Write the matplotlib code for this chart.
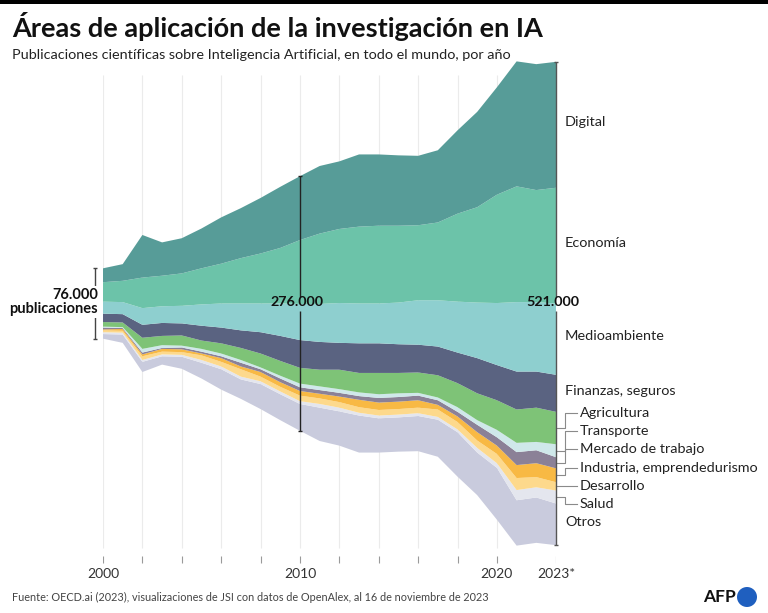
import numpy as np
import matplotlib.pyplot as plt
from matplotlib.patches import Rectangle, Ellipse

plt.rcParams['font.family'] = ['Lato', 'DejaVu Sans']

# publications per year, thousands
years = np.arange(2000, 2024)
categories = ['Digital', 'Economía', 'Medioambiente', 'Finanzas, seguros', 'Agricultura',
              'Transporte', 'Mercado de trabajo', 'Industria, emprendedurismo',
              'Desarrollo', 'Salud', 'Otros']
digital = [15, 18, 46, 36, 38, 43, 50, 54, 60, 66, 69, 73, 73, 78, 77, 76, 75, 78, 90, 103, 116, 135, 136, 136]
economia = [21, 23, 33, 33, 35, 39, 43, 49, 54, 60, 69, 76, 80, 83, 84, 83, 81, 84, 95, 103, 117, 125, 121, 125]
medioambiente = [13, 13, 18, 18, 19, 23, 26, 29, 31, 35, 39, 41, 43, 43, 43, 45, 48, 50, 55, 60, 67, 75, 75, 77]
finanzas = [9, 9, 14, 14, 13, 16, 17, 19, 23, 27, 30, 30, 29, 32, 32, 31, 30, 31, 33, 38, 38, 41, 39, 40]
agricultura = [5, 5, 12, 10, 11, 9, 11, 13, 15, 16, 17, 18, 21, 21, 23, 22, 22, 24, 26, 29, 32, 36, 37, 35]
transporte = [1, 1, 4, 3, 2, 3, 3, 3, 2, 3, 4, 4, 4, 4, 4, 4, 3, 3, 5, 5, 8, 10, 9, 14]
mercado = [2, 1, 2, 1, 2, 2, 2, 4, 3, 4, 4, 4, 4, 4, 5, 5, 5, 5, 5, 8, 9, 14, 14, 12]
industria = [1, 2, 2, 3, 3, 2, 4, 3, 5, 5, 5, 5, 6, 8, 8, 8, 8, 5, 6, 9, 9, 14, 15, 15]
desarrollo = [2, 2, 4, 3, 3, 5, 5, 8, 5, 5, 6, 6, 6, 6, 6, 6, 6, 8, 8, 8, 10, 13, 11, 9]
salud = [2, 2, 2, 2, 2, 3, 3, 3, 3, 3, 3, 4, 4, 3, 3, 3, 3, 3, 3, 5, 5, 11, 11, 14]
otros = [5, 9, 11, 9, 13, 17, 22, 21, 27, 28, 29, 36, 37, 40, 37, 37, 38, 40, 48, 46, 56, 49, 49, 45]
series = [digital, economia, medioambiente, finanzas, agricultura, transporte,
          mercado, industria, desarrollo, salud, otros]
colors = ['#579c98', '#6cc3a9', '#8ecfcf', '#5a6381', '#7ec377', '#cfe8ea',
          '#8b8197', '#f8b944', '#fdd98c', '#e4e6ee', '#c9cbdd']

bar_years = [2000, 2010, 2023]
bar_labels = ['76.000\npublicaciones', '276.000', '521.000']
tick_labels = {2000: '2000', 2010: '2010', 2020: '2020', 2023: '2023*'}

W, H = 768, 613
K = 1.08  # thousands per pixel


def ypx(p):
    return (303.5 - p) * K


def xpx(p):
    return 2000 + (p - 103) / (453 / 23)


fig = plt.figure(figsize=(7.68, 6.13), dpi=100)
ax = fig.add_axes([103 / W, 1 - 590 / H, 453 / W, 535 / H])
ax.set_xlim(2000, 2023)
ax.set_ylim(ypx(590), ypx(55))
ax.axis('off')

# grid and ticks
ax.vlines(np.arange(2000, 2021, 2), ypx(548), ypx(75), color='#ebebeb', lw=0.8, zorder=0)
ax.vlines(list(range(2000, 2021, 2)) + [2023], ypx(563), ypx(556), color='#9a9a9a', lw=0.8)
for yr, lab in tick_labels.items():
    ax.text(yr, ypx(574), lab, ha='center', va='center', fontsize=10, color='#333333')

# streamgraph
ax.stackplot(years, *series[::-1], baseline='sym', colors=colors[::-1], lw=0, zorder=1)

totals = np.sum(series, axis=0)

# total bars
t0 = totals[0]
x0 = xpx(95)
ax.vlines(x0, -t0 / 2, t0 / 2, color='#444444', lw=1, clip_on=False, zorder=3)
ax.hlines([-t0 / 2, t0 / 2], x0 - 0.12, x0 + 0.12, color='#444444', lw=1, clip_on=False, zorder=3)
ax.text(xpx(98), ypx(302), bar_labels[0], ha='right', va='center', fontsize=10.5,
        fontweight='bold', color='#111111', linespacing=0.95, zorder=4,
        bbox=dict(fc='white', ec='none', pad=1.5), clip_on=False)

gap = 7 * K
for yr, lab, col in [(bar_years[1], bar_labels[1], '#222222'), (bar_years[2], bar_labels[2], '#555555')]:
    t = totals[yr - 2000]
    ax.vlines([yr, yr], [-t / 2, gap], [-gap, t / 2], color=col, lw=1, clip_on=False, zorder=3)
    ax.hlines([-t / 2, t / 2], yr - 0.12, yr + 0.12, color=col, lw=1, clip_on=False, zorder=3)
    ax.text(yr - 0.15, ypx(302), lab, ha='center', va='center', fontsize=10.3,
            fontweight='bold', color='#111111', zorder=4, clip_on=False)

# right labels
last = np.array([s[-1] for s in series])
tops = totals[-1] / 2 - np.concatenate([[0], np.cumsum(last)[:-1]])
mids = tops - last / 2
big = [0, 1, 2, 3, 10]
for i in big:
    ax.text(xpx(565), mids[i] + 3, categories[i], ha='left', va='center', fontsize=10.4,
            color='#222222', clip_on=False)
small = [4, 5, 6, 7, 8, 9]
for j, i in enumerate(small):
    ly = ypx(413 + 18.2 * j)
    ax.plot([2023, xpx(565), xpx(565), xpx(577)], [mids[i], mids[i], ly, ly],
            color='#8a8a8a', lw=0.8, clip_on=False, zorder=2)
    ax.text(xpx(580), ly, categories[i], ha='left', va='center', fontsize=10.4,
            color='#222222', clip_on=False)

# header / footer
fig.add_artist(Rectangle((0, 1 - 4 / H), 1, 4 / H, transform=fig.transFigure,
                         color='black', lw=0))
fig.text(12 / W, 1 - 37 / H, 'Áreas de aplicación de la investigación en IA',
         fontsize=19.5, fontweight='bold', color='#111111', va='baseline')
fig.text(12 / W, 1 - 59 / H,
         'Publicaciones científicas sobre Inteligencia Artificial, en todo el mundo, por año',
         fontsize=10.4, color='#222222', va='baseline')
fig.text(12 / W, 1 - 601 / H,
         'Fuente: OECD.ai (2023), visualizaciones de JSI con datos de OpenAlex, al 16 de noviembre de 2023',
         fontsize=7.8, color='#444444', va='baseline')
fig.text(736 / W, 1 - 597 / H, 'AFP', fontsize=12.5, fontweight='bold', color='#111111',
         ha='right', va='center')
fig.add_artist(Ellipse((747 / W, 1 - 597 / H), 20 / W, 20 / H, transform=fig.transFigure,
                       color='#1f5fbf', lw=0))

fig.savefig('out.png', dpi=100, facecolor='white')
